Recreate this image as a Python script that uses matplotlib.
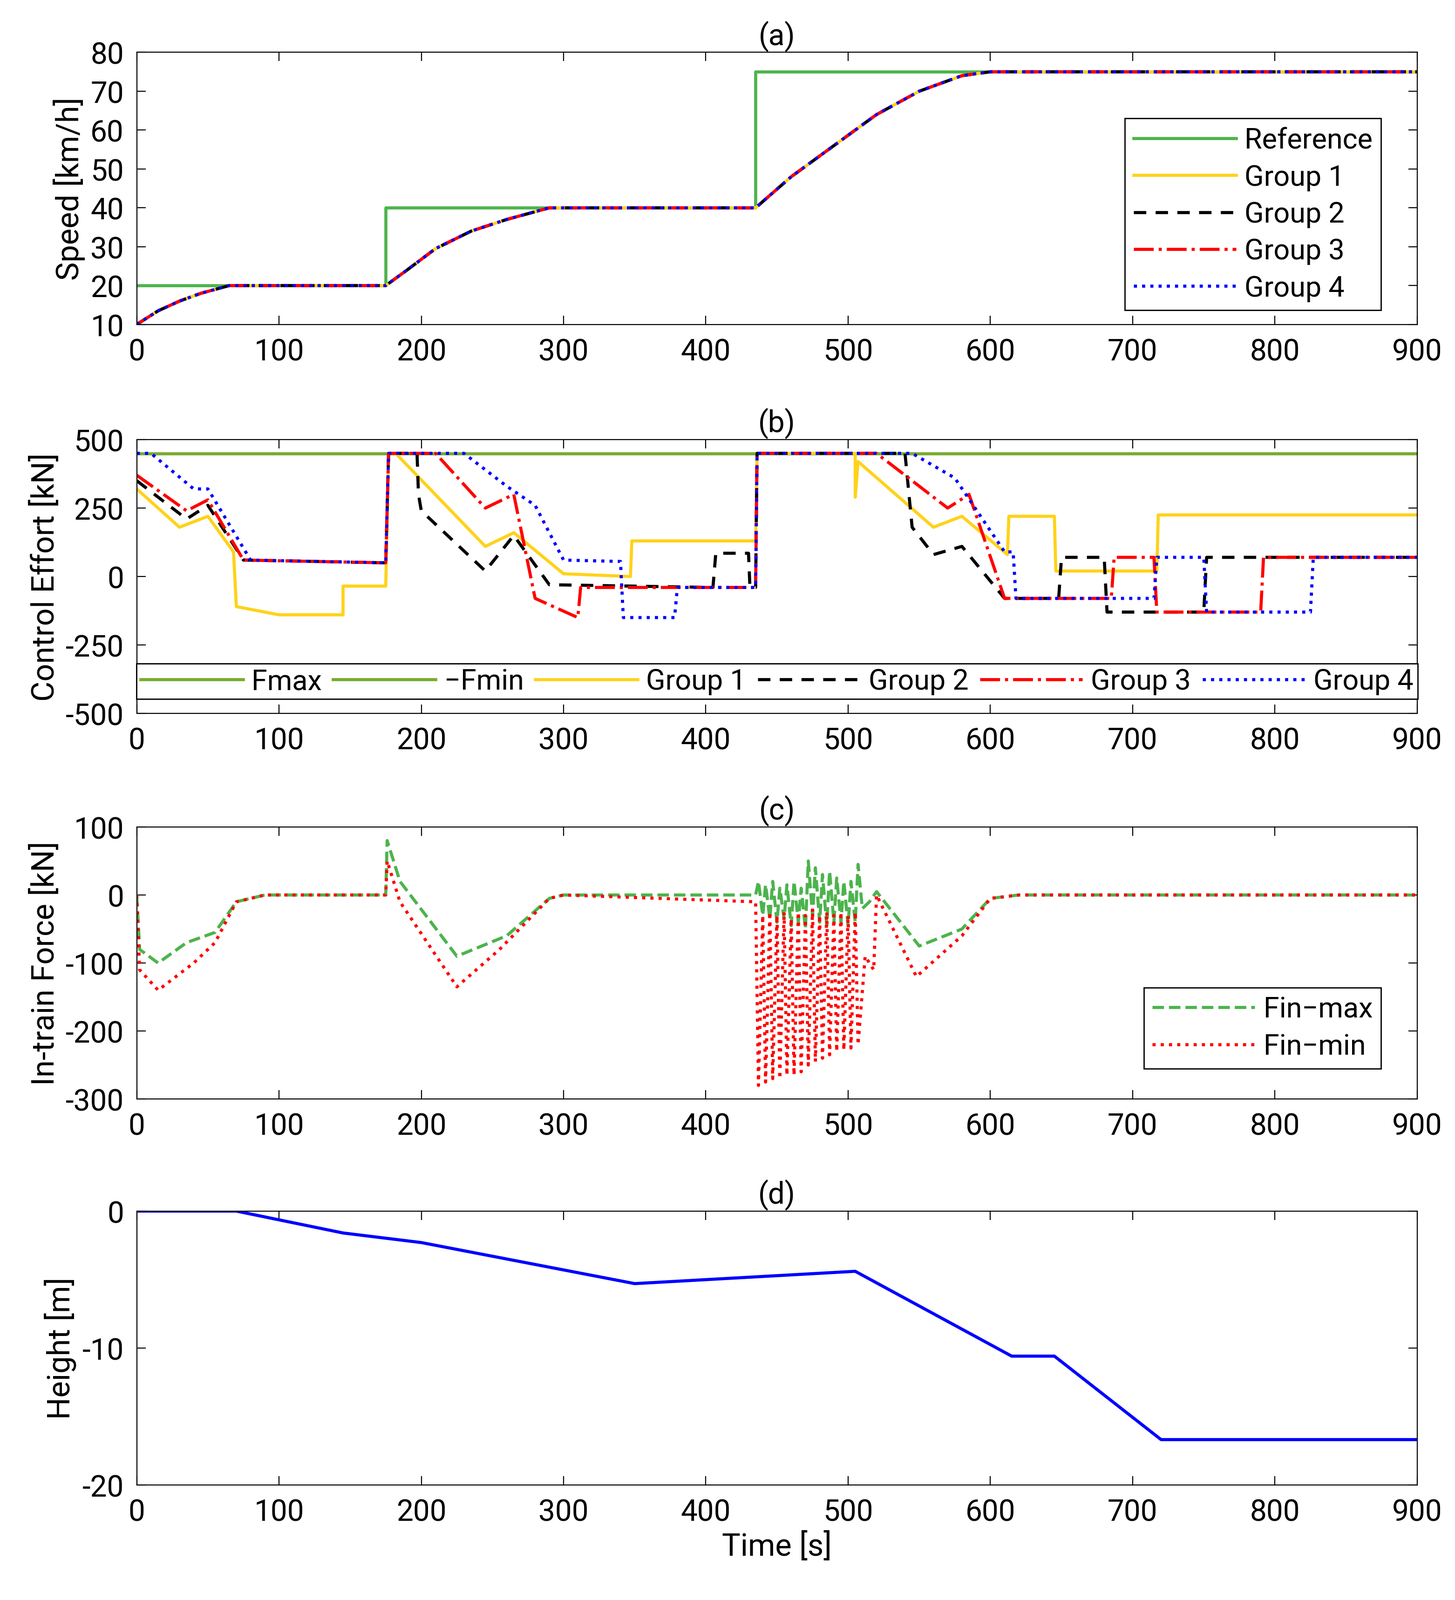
import matplotlib
matplotlib.use("Agg")
import matplotlib.pyplot as plt

plt.rcParams['font.family'] = 'Roboto'
plt.rcParams['font.size'] = 23
plt.rcParams['axes.unicode_minus'] = False

# (a) speed
ref_t = [0, 175, 175, 435, 435, 900]
ref_v = [20, 20, 40, 40, 75, 75]
spd_t = [0, 15, 30, 45, 65, 175, 190, 210, 235, 260, 290, 435, 460, 490, 520, 550, 580, 600, 900]
spd_v = [10, 13.5, 16, 18, 20, 20, 24, 29.5, 34, 37, 40, 40, 48, 56, 64, 70, 74, 75, 75]

# (b) control effort
fmax = 450
fmin = -380
g1_t = [0, 30, 50, 68, 70, 100, 145, 145, 175, 177, 182, 245, 265, 300, 347, 348, 435, 436, 505, 505, 507, 560, 580, 612, 613, 645, 646, 717, 718, 900]
g1_v = [320, 180, 220, 90, -110, -140, -140, -35, -35, 450, 450, 110, 160, 10, 0, 130, 130, 450, 450, 290, 420, 180, 220, 80, 220, 220, 20, 20, 225, 225]
g2_t = [0, 35, 50, 75, 175, 177, 197, 198, 200, 245, 265, 290, 405, 407, 430, 431, 435, 436, 540, 545, 560, 580, 610, 648, 650, 680, 682, 750, 752, 900]
g2_v = [350, 210, 260, 60, 50, 450, 450, 300, 240, 20, 150, -30, -40, 85, 85, -40, -40, 450, 450, 180, 80, 110, -80, -80, 70, 70, -130, -130, 70, 70]
g3_t = [0, 35, 50, 75, 175, 177, 210, 245, 265, 280, 310, 312, 435, 436, 520, 570, 585, 610, 685, 687, 715, 717, 790, 792, 900]
g3_v = [370, 240, 280, 60, 50, 450, 450, 250, 300, -80, -150, -40, -40, 450, 450, 250, 300, -80, -80, 70, 70, -130, -130, 70, 70]
g4_t = [0, 10, 40, 50, 80, 175, 177, 230, 260, 280, 300, 340, 342, 378, 380, 435, 436, 545, 575, 610, 616, 618, 715, 717, 750, 752, 825, 827, 900]
g4_v = [450, 450, 320, 320, 60, 50, 450, 450, 330, 260, 60, 55, -150, -150, -40, -40, 450, 450, 360, 90, 90, -80, -80, 70, 70, -130, -130, 70, 70]

# (c) in-train force
osc_t = [435, 437, 440, 442, 445, 447, 450, 452, 455, 457, 460, 462, 465, 467, 470, 472, 475, 477, 480, 482,
         485, 487, 490, 492, 495, 497, 500, 502, 505, 507]
osc_max = [0, 20, -30, 15, -35, 20, -40, 10, -35, 15, -45, 20, -40, 10, -50, 50, -30, 40, -40, 30,
           -45, 35, -40, 25, -40, 20, -45, 20, -40, 45]
osc_min = [-10, -280, -30, -275, -25, -270, -30, -270, -25, -265, -35, -265, -25, -260, -30, -250, -20, -245, -30, -240,
           -25, -235, -30, -230, -25, -228, -30, -225, -25, -220]
fmx_t = [0, 2, 15, 35, 55, 70, 90, 175, 176, 185, 225, 260, 290, 300] + osc_t + [510, 515, 520, 550, 580, 600, 620, 900]
fmx_v = [0, -80, -100, -70, -55, -10, 0, 0, 80, 20, -90, -60, -5, 0] + osc_max + [-20, -10, 5, -75, -50, -5, 0, 0]
fmn_t = [0, 2, 15, 40, 55, 70, 90, 175, 176, 185, 225, 255, 290, 300] + osc_t + [512, 518, 520, 548, 580, 600, 620, 900]
fmn_v = [0, -110, -140, -100, -70, -10, 0, 0, 50, -10, -135, -80, -5, 0] + osc_min + [-90, -110, 0, -120, -60, -5, 0, 0]

# (d) height
h_t = [0, 70, 145, 200, 250, 350, 505, 615, 645, 720, 900]
h_v = [0, 0, -1.6, -2.3, -3.3, -5.3, -4.4, -10.6, -10.6, -16.7, -16.7]

fig = plt.figure(figsize=(15.62, 17.185), dpi=200)
L, W = 0.094, 0.880
axa = fig.add_axes([L, 0.797, W, 0.170])
axb = fig.add_axes([L, 0.554, W, 0.171])
axc = fig.add_axes([L, 0.313, W, 0.170])
axd = fig.add_axes([L, 0.072, W, 0.171])

green = '#4db34d'
yellow = '#ffd21a'
for ax in (axa, axb, axc, axd):
    ax.set_xlim(0, 900)
    ax.set_xticks(range(0, 901, 100))
    ax.tick_params(direction='in', top=True, right=True, labelsize=23, length=7, pad=10)
    for s in ax.spines.values():
        s.set_linewidth(0.8)

axa.plot(ref_t, ref_v, color=green, lw=2.4, label='Reference')
axa.plot(spd_t, spd_v, color=yellow, lw=2.4, label='Group 1')
axa.plot(spd_t, spd_v, color='black', lw=2.4, ls=(0, (4, 3)), label='Group 2')
axa.plot(spd_t, spd_v, color='red', lw=2.4, ls='-.', label='Group 3')
axa.plot(spd_t, spd_v, color='blue', lw=2.4, ls=':', label='Group 4')
axa.set_ylim(10, 80)
axa.set_yticks(range(10, 81, 10))
axa.set_ylabel('Speed [km/h]', fontsize=24)
axa.set_title('(a)', fontsize=23, pad=6)
axa.legend(loc='upper right', bbox_to_anchor=(0.983, 0.81), fontsize=22, fancybox=False,
           edgecolor='black', handlelength=3.6, framealpha=1, borderpad=0.3,
           labelspacing=0.35, handletextpad=0.3)

axb.axhline(fmax, color='#77ac30', lw=2.4, label='Fmax')
axb.axhline(fmin, color='#77ac30', lw=2.4, label='\u2212Fmin')
axb.plot(g1_t, g1_v, color=yellow, lw=2.4, label='Group 1')
axb.plot(g2_t, g2_v, color='black', lw=2.4, ls=(0, (4, 3)), label='Group 2')
axb.plot(g3_t, g3_v, color='red', lw=2.4, ls='-.', label='Group 3')
axb.plot(g4_t, g4_v, color='blue', lw=2.4, ls=':', label='Group 4')
axb.set_ylim(-500, 500)
axb.set_yticks([-500, -250, 0, 250, 500])
axb.set_ylabel('Control Effort [kN]', fontsize=24)
axb.set_title('(b)', fontsize=23, pad=6)
axb.legend(loc='lower center', bbox_to_anchor=(0.5, 0.0), ncol=6, fontsize=22, fancybox=False,
           edgecolor='black', handlelength=3.6, columnspacing=0.4, handletextpad=0.3,
           borderpad=0.15, framealpha=1)

axc.plot(fmx_t, fmx_v, color=green, lw=2.4, ls='--', label='Fin\u2212max')
axc.plot(fmn_t, fmn_v, color='red', lw=2.4, ls=':', label='Fin\u2212min')
axc.set_ylim(-300, 100)
axc.set_yticks(range(-300, 101, 100))
axc.set_ylabel('In-train Force [kN]', fontsize=24)
axc.set_title('(c)', fontsize=23, pad=6)
axc.legend(loc='lower right', bbox_to_anchor=(0.983, 0.06), fontsize=22, fancybox=False,
           edgecolor='black', handlelength=3.6, framealpha=1, borderpad=0.3,
           labelspacing=0.35, handletextpad=0.3)

axd.plot(h_t, h_v, color='blue', lw=2.4)
axd.set_ylim(-20, 0)
axd.set_yticks([-20, -10, 0])
axd.set_ylabel('Height [m]', fontsize=24)
axd.set_title('(d)', fontsize=23, pad=6)
axd.set_xlabel('Time [s]', fontsize=24)

fig.savefig('out.png', dpi=200)
